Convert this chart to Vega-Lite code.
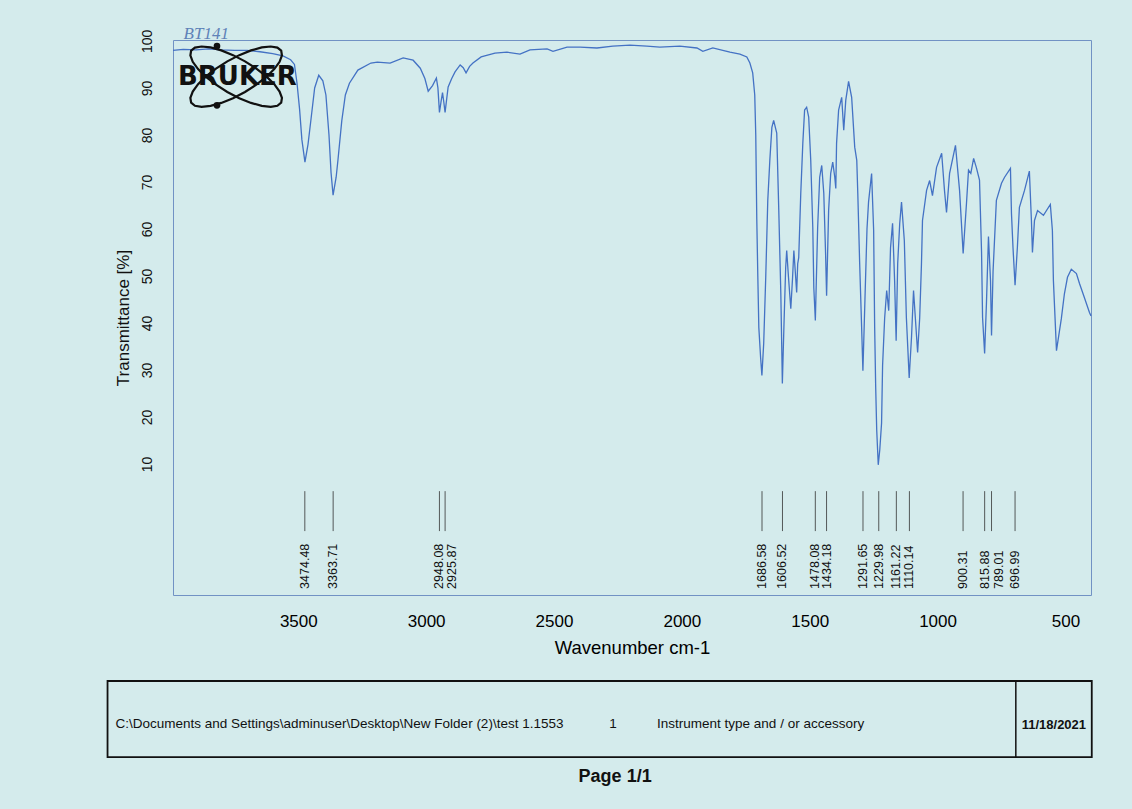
{
  "$schema": "https://vega.github.io/schema/vega-lite/v6.json",
  "width": 918,
  "height": 555,
  "autosize": {"type": "none"},
  "padding": {"left": 173, "top": 40, "right": 41, "bottom": 214},
  "background": "#d4ebec",
  "config": {
    "view": {"stroke": "#7192c4", "strokeWidth": 1},
    "font": "Liberation Sans"
  },
  "datasets": {
    "spectrum": [
      {"wavenumber": 3990, "transmittance": 98.0}, {"wavenumber": 3950, "transmittance": 98.2}, {"wavenumber": 3900, "transmittance": 98.1}, {"wavenumber": 3850, "transmittance": 98.3}, {"wavenumber": 3800, "transmittance": 98.1}, {"wavenumber": 3750, "transmittance": 98.0}, {"wavenumber": 3700, "transmittance": 98.0}, {"wavenumber": 3650, "transmittance": 97.7}, {"wavenumber": 3600, "transmittance": 97.3}, {"wavenumber": 3560, "transmittance": 96.8}, {"wavenumber": 3530, "transmittance": 96.0}, {"wavenumber": 3515, "transmittance": 95.0}, {"wavenumber": 3505, "transmittance": 91.0}, {"wavenumber": 3495, "transmittance": 85.5}, {"wavenumber": 3486, "transmittance": 79.0}, {"wavenumber": 3474, "transmittance": 74.2}, {"wavenumber": 3462, "transmittance": 78.0}, {"wavenumber": 3450, "transmittance": 83.5}, {"wavenumber": 3436, "transmittance": 90.0}, {"wavenumber": 3420, "transmittance": 92.7}, {"wavenumber": 3404, "transmittance": 91.5}, {"wavenumber": 3392, "transmittance": 88.5}, {"wavenumber": 3380, "transmittance": 80.0}, {"wavenumber": 3372, "transmittance": 72.0}, {"wavenumber": 3364, "transmittance": 67.2}, {"wavenumber": 3352, "transmittance": 71.0}, {"wavenumber": 3345, "transmittance": 74.6}, {"wavenumber": 3330, "transmittance": 83.0}, {"wavenumber": 3316, "transmittance": 88.5}, {"wavenumber": 3300, "transmittance": 91.0}, {"wavenumber": 3267, "transmittance": 93.8}, {"wavenumber": 3216, "transmittance": 95.3}, {"wavenumber": 3191, "transmittance": 95.5}, {"wavenumber": 3141, "transmittance": 95.3}, {"wavenumber": 3090, "transmittance": 96.4}, {"wavenumber": 3051, "transmittance": 95.9}, {"wavenumber": 3023, "transmittance": 94.2}, {"wavenumber": 3005, "transmittance": 92.0}, {"wavenumber": 2992, "transmittance": 89.3}, {"wavenumber": 2975, "transmittance": 90.5}, {"wavenumber": 2960, "transmittance": 92.1}, {"wavenumber": 2954, "transmittance": 90.0}, {"wavenumber": 2948, "transmittance": 84.8}, {"wavenumber": 2942, "transmittance": 87.0}, {"wavenumber": 2936, "transmittance": 89.0}, {"wavenumber": 2931, "transmittance": 87.0}, {"wavenumber": 2926, "transmittance": 84.8}, {"wavenumber": 2920, "transmittance": 87.5}, {"wavenumber": 2914, "transmittance": 90.2}, {"wavenumber": 2900, "transmittance": 92.0}, {"wavenumber": 2887, "transmittance": 93.4}, {"wavenumber": 2867, "transmittance": 94.9}, {"wavenumber": 2855, "transmittance": 94.3}, {"wavenumber": 2844, "transmittance": 93.2}, {"wavenumber": 2830, "transmittance": 94.6}, {"wavenumber": 2817, "transmittance": 95.3}, {"wavenumber": 2785, "transmittance": 96.6}, {"wavenumber": 2731, "transmittance": 97.4}, {"wavenumber": 2684, "transmittance": 97.6}, {"wavenumber": 2633, "transmittance": 97.2}, {"wavenumber": 2594, "transmittance": 98.1}, {"wavenumber": 2527, "transmittance": 98.3}, {"wavenumber": 2504, "transmittance": 97.8}, {"wavenumber": 2449, "transmittance": 98.7}, {"wavenumber": 2398, "transmittance": 98.7}, {"wavenumber": 2332, "transmittance": 98.5}, {"wavenumber": 2270, "transmittance": 98.9}, {"wavenumber": 2203, "transmittance": 99.1}, {"wavenumber": 2137, "transmittance": 98.9}, {"wavenumber": 2086, "transmittance": 98.7}, {"wavenumber": 2008, "transmittance": 98.9}, {"wavenumber": 1941, "transmittance": 98.5}, {"wavenumber": 1918, "transmittance": 97.8}, {"wavenumber": 1879, "transmittance": 98.5}, {"wavenumber": 1812, "transmittance": 97.6}, {"wavenumber": 1773, "transmittance": 97.2}, {"wavenumber": 1746, "transmittance": 96.6}, {"wavenumber": 1734, "transmittance": 95.3}, {"wavenumber": 1723, "transmittance": 93.2}, {"wavenumber": 1715, "transmittance": 88.5}, {"wavenumber": 1711, "transmittance": 80.0}, {"wavenumber": 1707, "transmittance": 62.0}, {"wavenumber": 1703, "transmittance": 50.0}, {"wavenumber": 1699, "transmittance": 39.0}, {"wavenumber": 1692, "transmittance": 32.6}, {"wavenumber": 1687, "transmittance": 28.8}, {"wavenumber": 1680, "transmittance": 35.6}, {"wavenumber": 1672, "transmittance": 49.7}, {"wavenumber": 1664, "transmittance": 66.1}, {"wavenumber": 1656, "transmittance": 74.6}, {"wavenumber": 1648, "transmittance": 81.6}, {"wavenumber": 1641, "transmittance": 83.1}, {"wavenumber": 1629, "transmittance": 80.4}, {"wavenumber": 1621, "transmittance": 64.0}, {"wavenumber": 1613, "transmittance": 46.2}, {"wavenumber": 1607, "transmittance": 27.1}, {"wavenumber": 1601, "transmittance": 39.0}, {"wavenumber": 1594, "transmittance": 51.8}, {"wavenumber": 1590, "transmittance": 55.4}, {"wavenumber": 1583, "transmittance": 49.7}, {"wavenumber": 1574, "transmittance": 43.0}, {"wavenumber": 1567, "transmittance": 49.7}, {"wavenumber": 1562, "transmittance": 55.4}, {"wavenumber": 1551, "transmittance": 46.5}, {"wavenumber": 1547, "transmittance": 52.6}, {"wavenumber": 1543, "transmittance": 53.9}, {"wavenumber": 1535, "transmittance": 67.6}, {"wavenumber": 1527, "transmittance": 78.2}, {"wavenumber": 1520, "transmittance": 85.3}, {"wavenumber": 1512, "transmittance": 85.9}, {"wavenumber": 1504, "transmittance": 83.8}, {"wavenumber": 1496, "transmittance": 74.6}, {"wavenumber": 1488, "transmittance": 60.3}, {"wavenumber": 1484, "transmittance": 47.5}, {"wavenumber": 1478, "transmittance": 40.5}, {"wavenumber": 1469, "transmittance": 60.3}, {"wavenumber": 1461, "transmittance": 71.0}, {"wavenumber": 1453, "transmittance": 73.5}, {"wavenumber": 1445, "transmittance": 67.6}, {"wavenumber": 1438, "transmittance": 54.8}, {"wavenumber": 1434, "transmittance": 45.8}, {"wavenumber": 1426, "transmittance": 64.0}, {"wavenumber": 1418, "transmittance": 71.8}, {"wavenumber": 1410, "transmittance": 74.2}, {"wavenumber": 1402, "transmittance": 71.0}, {"wavenumber": 1398, "transmittance": 68.6}, {"wavenumber": 1395, "transmittance": 78.2}, {"wavenumber": 1387, "transmittance": 85.3}, {"wavenumber": 1375, "transmittance": 88.0}, {"wavenumber": 1367, "transmittance": 81.0}, {"wavenumber": 1359, "transmittance": 87.4}, {"wavenumber": 1348, "transmittance": 91.4}, {"wavenumber": 1336, "transmittance": 88.0}, {"wavenumber": 1324, "transmittance": 77.4}, {"wavenumber": 1316, "transmittance": 74.6}, {"wavenumber": 1312, "transmittance": 67.6}, {"wavenumber": 1305, "transmittance": 53.3}, {"wavenumber": 1297, "transmittance": 39.0}, {"wavenumber": 1292, "transmittance": 29.8}, {"wavenumber": 1284, "transmittance": 45.0}, {"wavenumber": 1276, "transmittance": 60.0}, {"wavenumber": 1270, "transmittance": 65.7}, {"wavenumber": 1258, "transmittance": 71.8}, {"wavenumber": 1250, "transmittance": 59.7}, {"wavenumber": 1246, "transmittance": 39.0}, {"wavenumber": 1242, "transmittance": 26.3}, {"wavenumber": 1238, "transmittance": 17.2}, {"wavenumber": 1232, "transmittance": 9.8}, {"wavenumber": 1226, "transmittance": 13.0}, {"wavenumber": 1219, "transmittance": 18.7}, {"wavenumber": 1215, "transmittance": 31.0}, {"wavenumber": 1207, "transmittance": 41.0}, {"wavenumber": 1199, "transmittance": 46.9}, {"wavenumber": 1191, "transmittance": 42.6}, {"wavenumber": 1184, "transmittance": 56.0}, {"wavenumber": 1176, "transmittance": 61.2}, {"wavenumber": 1168, "transmittance": 49.0}, {"wavenumber": 1162, "transmittance": 36.2}, {"wavenumber": 1156, "transmittance": 52.6}, {"wavenumber": 1148, "transmittance": 61.2}, {"wavenumber": 1141, "transmittance": 65.7}, {"wavenumber": 1130, "transmittance": 57.5}, {"wavenumber": 1122, "transmittance": 41.1}, {"wavenumber": 1111, "transmittance": 28.3}, {"wavenumber": 1102, "transmittance": 36.9}, {"wavenumber": 1094, "transmittance": 46.9}, {"wavenumber": 1078, "transmittance": 33.7}, {"wavenumber": 1070, "transmittance": 41.0}, {"wavenumber": 1063, "transmittance": 52.6}, {"wavenumber": 1059, "transmittance": 61.8}, {"wavenumber": 1043, "transmittance": 68.2}, {"wavenumber": 1031, "transmittance": 70.3}, {"wavenumber": 1020, "transmittance": 67.1}, {"wavenumber": 1004, "transmittance": 73.1}, {"wavenumber": 984, "transmittance": 76.1}, {"wavenumber": 973, "transmittance": 68.2}, {"wavenumber": 965, "transmittance": 63.5}, {"wavenumber": 953, "transmittance": 71.8}, {"wavenumber": 930, "transmittance": 77.8}, {"wavenumber": 914, "transmittance": 68.2}, {"wavenumber": 900, "transmittance": 54.8}, {"wavenumber": 887, "transmittance": 65.4}, {"wavenumber": 879, "transmittance": 72.5}, {"wavenumber": 870, "transmittance": 71.8}, {"wavenumber": 859, "transmittance": 75.0}, {"wavenumber": 848, "transmittance": 73.0}, {"wavenumber": 836, "transmittance": 70.4}, {"wavenumber": 828, "transmittance": 55.0}, {"wavenumber": 824, "transmittance": 41.1}, {"wavenumber": 816, "transmittance": 33.5}, {"wavenumber": 809, "transmittance": 44.0}, {"wavenumber": 801, "transmittance": 58.4}, {"wavenumber": 793, "transmittance": 49.0}, {"wavenumber": 789, "transmittance": 37.3}, {"wavenumber": 783, "transmittance": 51.0}, {"wavenumber": 770, "transmittance": 66.1}, {"wavenumber": 750, "transmittance": 69.7}, {"wavenumber": 738, "transmittance": 71.0}, {"wavenumber": 715, "transmittance": 72.9}, {"wavenumber": 711, "transmittance": 63.3}, {"wavenumber": 705, "transmittance": 56.0}, {"wavenumber": 697, "transmittance": 48.0}, {"wavenumber": 688, "transmittance": 56.0}, {"wavenumber": 680, "transmittance": 64.6}, {"wavenumber": 660, "transmittance": 68.2}, {"wavenumber": 641, "transmittance": 72.3}, {"wavenumber": 633, "transmittance": 61.8}, {"wavenumber": 629, "transmittance": 55.0}, {"wavenumber": 621, "transmittance": 61.8}, {"wavenumber": 609, "transmittance": 63.9}, {"wavenumber": 586, "transmittance": 62.9}, {"wavenumber": 559, "transmittance": 65.2}, {"wavenumber": 551, "transmittance": 59.7}, {"wavenumber": 547, "transmittance": 49.0}, {"wavenumber": 535, "transmittance": 34.1}, {"wavenumber": 523, "transmittance": 38.4}, {"wavenumber": 516, "transmittance": 40.9}, {"wavenumber": 504, "transmittance": 46.2}, {"wavenumber": 492, "transmittance": 49.7}, {"wavenumber": 477, "transmittance": 51.4}, {"wavenumber": 457, "transmittance": 50.5}, {"wavenumber": 445, "transmittance": 48.4}, {"wavenumber": 426, "transmittance": 45.4}, {"wavenumber": 406, "transmittance": 42.2}, {"wavenumber": 400, "transmittance": 41.5}
    ],
    "peaks": [
      {"wn": 3474.48, "label": "3474.48"}, {"wn": 3363.71, "label": "3363.71"}, {"wn": 2948.08, "label": "2948.08"}, {"wn": 2925.87, "label": "2925.87"},
      {"wn": 1686.58, "label": "1686.58"}, {"wn": 1606.52, "label": "1606.52"}, {"wn": 1478.08, "label": "1478.08"}, {"wn": 1434.18, "label": "1434.18"},
      {"wn": 1291.65, "label": "1291.65"}, {"wn": 1229.98, "label": "1229.98"}, {"wn": 1161.22, "label": "1161.22"}, {"wn": 1110.14, "label": "1110.14"},
      {"wn": 900.31, "label": "900.31"}, {"wn": 815.88, "label": "815.88"}, {"wn": 789.01, "label": "789.01"}, {"wn": 696.99, "label": "696.99"}
    ]
  },
  "layer": [
    {
      "data": {"name": "spectrum"},
      "mark": {"type": "line", "color": "#4472c4", "strokeWidth": 1.3},
      "encoding": {
        "x": {
          "field": "wavenumber", "type": "quantitative",
          "scale": {"domain": [400, 3990], "reverse": true, "nice": false, "zero": false},
          "title": "Wavenumber cm-1",
          "axis": {"values": [3500, 3000, 2500, 2000, 1500, 1000, 500], "format": "d", "ticks": false, "tickSize": 0, "domain": false, "grid": false, "labelFontSize": 17, "labelColor": "#000", "labelPadding": 18, "labelFlush": false, "labelOverlap": false, "titleFontSize": 18.5, "titleFontWeight": "normal", "titleColor": "#000", "titlePadding": 9}
        },
        "y": {
          "field": "transmittance", "type": "quantitative",
          "scale": {"domain": [-17.9, 100.2], "nice": false, "zero": false},
          "title": "Transmittance [%]",
          "axis": {"values": [10, 20, 30, 40, 50, 60, 70, 80, 90, 100], "format": "d", "ticks": false, "tickSize": 0, "domain": false, "grid": false, "labelAngle": -90, "labelAlign": "center", "labelBaseline": "middle", "labelFont": "Liberation Sans", "labelFontSize": 14, "labelColor": "#111", "labelPadding": 26, "labelOverlap": false, "labelFlush": false, "titleFontSize": 17, "titleFontWeight": "normal", "titleColor": "#111", "titlePadding": 8}
        }
      }
    },
    {
      "data": {"name": "peaks"},
      "mark": {"type": "rule", "color": "#333333", "strokeWidth": 1, "opacity": 0.8},
      "encoding": {
        "x": {"field": "wn", "type": "quantitative"},
        "y": {"datum": 4.2},
        "y2": {"datum": -4.3}
      }
    },
    {
      "data": {"name": "peaks"},
      "transform": [{"filter": {"not": {"field": "label", "oneOf": ["2925.87", "789.01"]}}}],
      "mark": {"type": "text", "angle": 270, "align": "left", "baseline": "middle", "fontSize": 12.5, "color": "#111"},
      "encoding": {
        "x": {"field": "wn", "type": "quantitative"},
        "y": {"datum": -16.6},
        "text": {"field": "label"}
      }
    },
    {
      "data": {"name": "peaks"},
      "transform": [{"filter": {"field": "label", "oneOf": ["2925.87", "789.01"]}}],
      "mark": {"type": "text", "angle": 270, "align": "left", "baseline": "middle", "fontSize": 12.5, "color": "#111", "dy": 7},
      "encoding": {
        "x": {"field": "wn", "type": "quantitative"},
        "y": {"datum": -16.6},
        "text": {"field": "label"}
      }
    },
    {
      "data": {"values": [{}]},
      "mark": {"type": "point", "shape": "M0.866,0.5L0.7925,0.5592L0.665,0.5802L0.4922,0.5617L0.2858,0.505L0.0599,0.4138L-0.17,0.2944L-0.3883,0.155L-0.5802,0.005L-0.7326,-0.1454L-0.835,-0.2858L-0.8805,-0.4068L-0.866,-0.5L-0.7925,-0.5592L-0.665,-0.5802L-0.4922,-0.5617L-0.2858,-0.505L-0.0599,-0.4138L0.17,-0.2944L0.3883,-0.155L0.5802,-0.005L0.7326,0.1454L0.835,0.2858L0.8805,0.4068Z", "size": 10816, "filled": false, "stroke": "#111", "strokeWidth": 2.2, "opacity": 1},
      "encoding": {"x": {"datum": 3743}, "y": {"datum": 92.4}}
    },
    {
      "data": {"values": [{}]},
      "mark": {"type": "point", "shape": "M-0.866,0.5L-0.7925,0.5592L-0.665,0.5802L-0.4922,0.5617L-0.2858,0.505L-0.0599,0.4138L0.17,0.2944L0.3883,0.155L0.5802,0.005L0.7326,-0.1454L0.835,-0.2858L0.8805,-0.4068L0.866,-0.5L0.7925,-0.5592L0.665,-0.5802L0.4922,-0.5617L0.2858,-0.505L0.0599,-0.4138L-0.17,-0.2944L-0.3883,-0.155L-0.5802,-0.005L-0.7326,0.1454L-0.835,0.2858L-0.8805,0.4068Z", "size": 10816, "filled": false, "stroke": "#111", "strokeWidth": 2.2, "opacity": 1},
      "encoding": {"x": {"datum": 3743}, "y": {"datum": 92.4}}
    },
    {
      "data": {"values": [{}]},
      "mark": {"type": "point", "shape": "circle", "size": 45, "filled": true, "color": "#111", "opacity": 1},
      "encoding": {"x": {"datum": 3818}, "y": {"datum": 98.9}}
    },
    {
      "data": {"values": [{}]},
      "mark": {"type": "point", "shape": "circle", "size": 45, "filled": true, "color": "#111", "opacity": 1},
      "encoding": {"x": {"datum": 3818}, "y": {"datum": 86.3}}
    },
    {
      "data": {"values": [{}]},
      "mark": {"type": "text", "text": "BRUKER", "font": "DejaVu Sans", "fontSize": 26, "fontWeight": "bold", "color": "#111", "align": "center", "baseline": "middle"},
      "encoding": {"x": {"datum": 3738}, "y": {"datum": 92.3}}
    },
    {
      "data": {"values": [{}]},
      "mark": {"type": "text", "text": "BT141", "font": "Liberation Serif", "fontStyle": "italic", "fontSize": 17, "color": "#5f82b8", "align": "center", "baseline": "middle"},
      "encoding": {"x": {"datum": 3860}, "y": {"datum": 101.4}}
    },
    {
      "data": {"values": [{}]},
      "mark": {"type": "rect", "fillOpacity": 0, "stroke": "#111", "strokeWidth": 1.8},
      "encoding": {"x": {"datum": 4246}, "x2": {"datum": 397}, "y": {"datum": -36.2}, "y2": {"datum": -52.4}}
    },
    {
      "data": {"values": [{}]},
      "mark": {"type": "rule", "color": "#111", "strokeWidth": 1.5},
      "encoding": {"x": {"datum": 694}, "y": {"datum": -36.2}, "y2": {"datum": -52.4}}
    },
    {
      "data": {"values": [{}]},
      "mark": {"type": "text", "text": "C:\\Documents and Settings\\adminuser\\Desktop\\New Folder (2)\\test 1.1553", "fontSize": 13.5, "color": "#111", "align": "left", "baseline": "middle"},
      "encoding": {"x": {"datum": 4215}, "y": {"datum": -45.4}}
    },
    {
      "data": {"values": [{}]},
      "mark": {"type": "text", "text": "1", "fontSize": 13.5, "color": "#111", "align": "center", "baseline": "middle"},
      "encoding": {"x": {"datum": 2269}, "y": {"datum": -45.4}}
    },
    {
      "data": {"values": [{}]},
      "mark": {"type": "text", "text": "Instrument type and / or accessory", "fontSize": 13.5, "color": "#111", "align": "left", "baseline": "middle"},
      "encoding": {"x": {"datum": 2097}, "y": {"datum": -45.4}}
    },
    {
      "data": {"values": [{}]},
      "mark": {"type": "text", "text": "11/18/2021", "fontSize": 13, "fontWeight": "bold", "color": "#111", "align": "left", "baseline": "middle"},
      "encoding": {"x": {"datum": 671}, "y": {"datum": -45.6}}
    },
    {
      "data": {"values": [{}]},
      "mark": {"type": "text", "text": "Page 1/1", "fontSize": 18, "fontWeight": "bold", "color": "#111", "align": "center", "baseline": "middle"},
      "encoding": {"x": {"datum": 2261}, "y": {"datum": -56.6}}
    }
  ]
}
